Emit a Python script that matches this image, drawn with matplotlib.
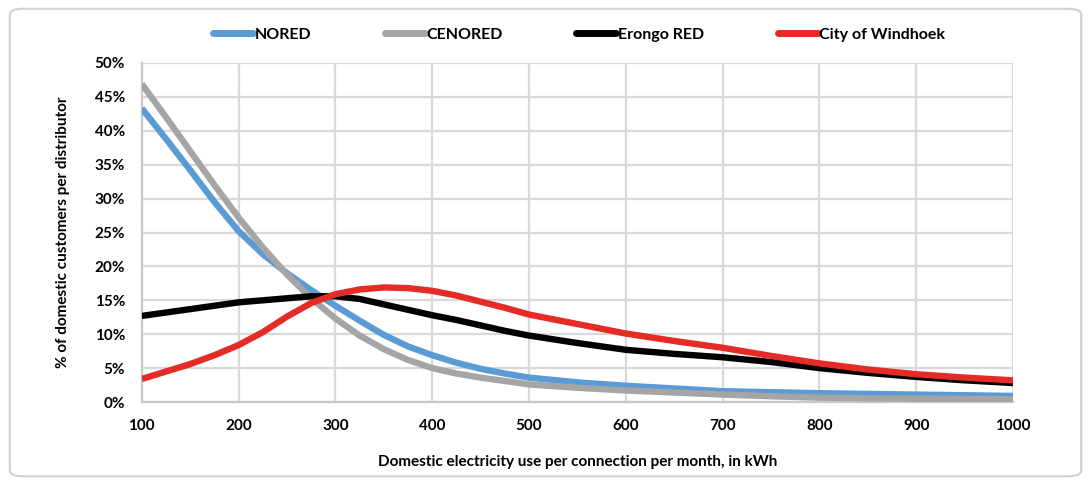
import numpy as np
import matplotlib
matplotlib.use("Agg")
import matplotlib.pyplot as plt
from matplotlib.patches import FancyBboxPatch
from matplotlib.ticker import MultipleLocator, PercentFormatter

plt.rcParams['font.family'] = ['Lato', 'DejaVu Sans']

# kWh per connection per month
kwh = [100, 125, 150, 175, 200, 225, 250, 275, 300, 325, 350, 375, 400, 425,
       450, 475, 500, 550, 600, 650, 700, 750, 800, 850, 900, 950, 1000]

# % of domestic customers per distributor
nored = [43.3, 38.8, 34.2, 29.5, 25.2, 21.8, 19.0, 16.5, 14.2, 12.0, 9.9, 8.2, 6.9, 5.8,
         4.9, 4.2, 3.6, 2.9, 2.4, 2.0, 1.6, 1.45, 1.3, 1.2, 1.1, 1.0, 0.9]
cenored = [46.9, 42.0, 37.0, 32.0, 27.2, 22.8, 18.8, 15.3, 12.3, 9.8, 7.8, 6.2, 5.0, 4.2,
           3.6, 3.1, 2.6, 2.1, 1.7, 1.4, 1.1, 0.85, 0.65, 0.55, 0.5, 0.45, 0.4]
erongo = [12.7, 13.2, 13.7, 14.2, 14.7, 15.0, 15.3, 15.6, 15.6, 15.2, 14.4, 13.6, 12.8, 12.1,
          11.3, 10.5, 9.8, 8.7, 7.7, 7.1, 6.6, 5.9, 5.0, 4.3, 3.7, 3.2, 2.8]
windhoek = [3.4, 4.5, 5.6, 6.9, 8.4, 10.3, 12.6, 14.6, 15.9, 16.6, 16.9, 16.8, 16.4, 15.7,
            14.8, 13.9, 12.9, 11.5, 10.1, 9.0, 8.0, 6.8, 5.7, 4.8, 4.1, 3.6, 3.2]

series = [("NORED", nored, "#5b9bd5"),
          ("CENORED", cenored, "#a5a5a5"),
          ("Erongo RED", erongo, "#000000"),
          ("City of Windhoek", windhoek, "#e42b26")]

fig = plt.figure(figsize=(10.91, 4.86), dpi=100)
# outer chart frame
fig.patches.append(FancyBboxPatch((0.009, 0.02), 0.982, 0.962, boxstyle="round,pad=0,rounding_size=0.012",
                                  transform=fig.transFigure, facecolor="white",
                                  edgecolor="#d0d0d0", linewidth=1.5, zorder=-5))
ax = fig.add_axes([0.130, 0.1728, 0.7985, 0.6976])
ax.set_facecolor("none")

for name, vals, col in series:
    ax.plot(kwh, vals, color=col, lw=4.6, label=name, solid_capstyle="butt",
            solid_joinstyle="round", zorder=3)

ax.set_xlim(100, 1000)
ax.set_ylim(0, 50)
ax.xaxis.set_major_locator(MultipleLocator(100))
ax.yaxis.set_major_locator(MultipleLocator(5))
ax.yaxis.set_major_formatter(PercentFormatter(decimals=0))
ax.grid(True, color="#d9d9d9", lw=1.6, zorder=0)
for s in ["top", "right"]:
    ax.spines[s].set_visible(False)
for s in ["left", "bottom"]:
    ax.spines[s].set_color("#c8c8c8")
    ax.spines[s].set_linewidth(1.6)
ax.tick_params(axis="x", length=0, labelsize=11, pad=12)
ax.tick_params(axis="y", length=0, labelsize=11, pad=12)
for lab in ax.get_xticklabels() + ax.get_yticklabels():
    lab.set_fontweight("bold")

ax.set_xlabel("Domestic electricity use per connection per month, in kWh",
              fontsize=11, fontweight="bold", labelpad=16)
ax.set_ylabel("% of domestic customers per distributor",
              fontsize=11, fontweight="bold", labelpad=18)

leg = fig.legend(loc="center", bbox_to_anchor=(0.531, 0.928), ncol=4, frameon=False,
                 prop={"weight": "bold", "size": 11.5}, handlelength=2.5, handletextpad=0.1,
                 columnspacing=4.6)
for h in leg.get_lines():
    h.set_solid_capstyle("round")
    h.set_linewidth(5)

fig.savefig("out.png", dpi=100)
